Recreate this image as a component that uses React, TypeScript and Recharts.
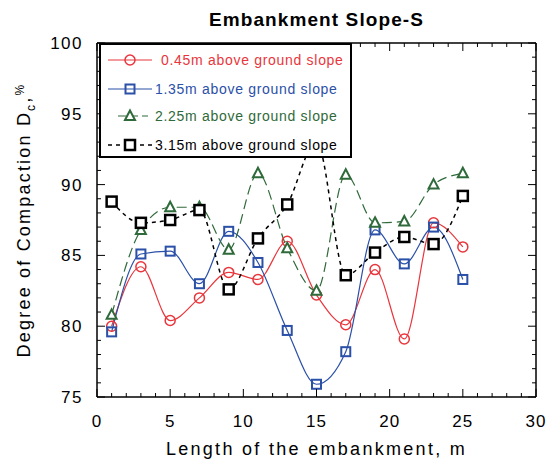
import { Line, LineChart, XAxis, YAxis } from 'recharts'

const FONT = '"Liberation Sans", Arial, sans-serif'

// length along the embankment, m
const LENGTH = [1, 3, 5, 7, 9, 11, 13, 15, 17, 19, 21, 23, 25]

// degree of compaction, %
const H045 = [80.0, 84.2, 80.4, 82.0, 83.8, 83.3, 86.0, 82.2, 80.1, 84.0, 79.1, 87.3, 85.6]
const H135 = [79.6, 85.1, 85.3, 83.0, 86.7, 84.5, 79.7, 75.9, 78.2, 86.8, 84.4, 87.0, 83.3]
const H225 = [80.8, 86.8, 88.4, 88.4, 85.4, 90.8, 85.5, 82.5, 90.7, 87.3, 87.4, 90.0, 90.8]
const H315 = [88.8, 87.3, 87.5, 88.2, 82.6, 86.2, 88.6, 93.0, 83.6, 85.2, 86.3, 85.8, 89.2]

const X_TICKS = [
  0, 1, 2, 3, 4, 5, 6, 7, 8, 9, 10, 11, 12, 13, 14, 15,
  16, 17, 18, 19, 20, 21, 22, 23, 24, 25, 26, 27, 28, 29, 30,
]
const Y_TICKS = [
  75, 76, 77, 78, 79, 80, 81, 82, 83, 84, 85, 86, 87, 88, 89, 90,
  91, 92, 93, 94, 95, 96, 97, 98, 99, 100,
]

const SERIES_NAMES = [
  '0.45m above ground slope',
  '1.35m above ground slope',
  '2.25m above ground slope',
  '3.15m above ground slope',
]

const RED = '#e8363c'
const BLUE = '#2a50a8'
const GREEN = '#2f6a3a'
const BLACK = '#000000'

type MarkerKind = 'circle' | 'square' | 'triangle' | 'blackSquare'

const SERIES = [
  { key: 'h045', name: SERIES_NAMES[0], color: RED, dash: undefined, width: 1.2, marker: 'circle' as MarkerKind },
  { key: 'h135', name: SERIES_NAMES[1], color: BLUE, dash: undefined, width: 1.2, marker: 'square' as MarkerKind },
  { key: 'h225', name: SERIES_NAMES[2], color: GREEN, dash: '10 5', width: 1.2, marker: 'triangle' as MarkerKind },
  { key: 'h315', name: SERIES_NAMES[3], color: BLACK, dash: '4 4', width: 1.5, marker: 'blackSquare' as MarkerKind },
]

const rows = LENGTH.map((x, i) => ({
  x,
  h045: H045[i],
  h135: H135[i],
  h225: H225[i],
  h315: H315[i],
}))

// plot box, from the chart margins and axis sizes below
const PLOT = { left: 97, right: 536, top: 43, bottom: 397 }
const px = (v: number) => PLOT.left + ((v - 0) / 30) * (PLOT.right - PLOT.left)
const py = (v: number) => PLOT.bottom - ((v - 75) / 25) * (PLOT.bottom - PLOT.top)

function Marker({ kind, cx, cy, color }: { kind: MarkerKind; cx: number; cy: number; color: string }) {
  if (kind === 'circle')
    return <circle cx={cx} cy={cy} r={5} fill="none" stroke={color} strokeWidth={1.5} />
  if (kind === 'square')
    return <rect x={cx - 4.5} y={cy - 4.5} width={9} height={9} fill="none" stroke={color} strokeWidth={2} />
  if (kind === 'triangle')
    return (
      <polygon
        points={`${cx},${cy - 5.5} ${cx + 5},${cy + 4} ${cx - 5},${cy + 4}`}
        fill="#fff"
        stroke={color}
        strokeWidth={2}
      />
    )
  return <rect x={cx - 5} y={cy - 5} width={10} height={10} fill="#fff" stroke={color} strokeWidth={2.5} />
}

const dotFor = (kind: MarkerKind, color: string) => (props: any) => {
  const { cx, cy, index } = props
  if (cx == null || cy == null) return <g key={index} />
  return <Marker key={index} kind={kind} cx={cx} cy={cy} color={color} />
}

const isMajor = (v: number) => v % 5 === 0
const tickLen = (v: number) => (isMajor(v) ? 8 : 4)

const bottomTick = ({ x, y, payload }: any) => (
  <g>
    {isMajor(payload.value) && (
      <text x={x} y={y + 30} textAnchor="middle" fontSize={17} fontFamily={FONT} letterSpacing={1} fill="#000">
        {payload.value}
      </text>
    )}
  </g>
)

const leftTick = ({ x, y, payload }: any) => (
  <g>
    {isMajor(payload.value) && (
      <text x={x - 14} y={y + 6} textAnchor="end" fontSize={17} fontFamily={FONT} letterSpacing={1.5} fill="#000">
        {payload.value}
      </text>
    )}
  </g>
)

// inward tick marks, legend, title and axis titles, laid over the chart
function Overlay() {
  const rowsY = [17, 46, 73, 102]
  return (
    <svg width={547} height={463} style={{ position: 'absolute', left: 0, top: 0, pointerEvents: 'none' }}>
      <g stroke="#000" strokeWidth={1}>
        {X_TICKS.map((v) => (
          <g key={`x${v}`}>
            <line x1={px(v)} x2={px(v)} y1={PLOT.bottom} y2={PLOT.bottom - tickLen(v)} />
            <line x1={px(v)} x2={px(v)} y1={PLOT.top} y2={PLOT.top + tickLen(v)} />
          </g>
        ))}
        {Y_TICKS.map((v) => (
          <g key={`y${v}`}>
            <line x1={PLOT.left} x2={PLOT.left + tickLen(v)} y1={py(v)} y2={py(v)} />
            <line x1={PLOT.right} x2={PLOT.right - tickLen(v)} y1={py(v)} y2={py(v)} />
          </g>
        ))}
      </g>
      <text x={316.5} y={26} textAnchor="middle" fontSize={19} fontWeight="bold" fontFamily={FONT}
        letterSpacing={1.1} fill="#000">
        Embankment Slope-S
      </text>
      <text x={316.5} y={455} textAnchor="middle" fontSize={18} fontFamily={FONT} letterSpacing={2.3} fill="#000">
        Length of the embankment, m
      </text>
      <text x={30} y={220} transform="rotate(-90 30 220)" textAnchor="middle"
        fontSize={18} fontFamily={FONT} letterSpacing={2.2} fill="#000">
        Degree of Compaction D
        <tspan fontSize={12} dy={5}>c</tspan>
        <tspan dy={-5}>,</tspan>
        <tspan fontSize={12} dy={-6}>%</tspan>
      </text>
      <g transform="translate(99 43)">
        <rect x={1} y={1} width={251} height={113} fill="#fff" stroke="#000" strokeWidth={2} />
        {SERIES.map((s, i) => {
          const y = rowsY[i]
          const x1 = s.marker === 'triangle' ? 19 : 9
          const x2 = s.marker === 'triangle' ? 49 : 53
          return (
            <g key={s.key}>
              <line x1={x1} y1={y} x2={x2} y2={y} stroke={s.color} strokeWidth={s.width}
                strokeDasharray={s.dash ? (s.marker === 'triangle' ? '8 4' : '4 4') : undefined} />
              <Marker kind={s.marker} cx={31} cy={y} color={s.color} />
              <text x={i === 0 ? 62 : 56} y={y + 5} fontSize={14} fontFamily={FONT} letterSpacing={0.7} fill={s.color}>
                {s.name}
              </text>
            </g>
          )
        })}
      </g>
    </svg>
  )
}

const frame = { stroke: '#000', strokeWidth: 1.5 }

export default function App() {
  return (
    <div style={{ position: 'absolute', left: 0, top: 0, width: 547, height: 463 }}>
      <LineChart
        width={547}
        height={463}
        data={rows}
        margin={{ top: 33, right: 0, bottom: 0, left: 0 }}
      >
        <XAxis
          type="number"
          dataKey="x"
          domain={[0, 30]}
          ticks={X_TICKS}
          interval={0}
          height={66}
          tickSize={0}
          tickMargin={0}
          tick={bottomTick}
          axisLine={frame}
          tickLine={false}
        />
        <XAxis
          xAxisId="t"
          orientation="top"
          type="number"
          dataKey="x"
          domain={[0, 30]}
          height={10}
          tick={false}
          tickLine={false}
          axisLine={frame}
        />
        <YAxis
          type="number"
          domain={[75, 100]}
          ticks={Y_TICKS}
          interval={0}
          width={97}
          tickSize={0}
          tickMargin={0}
          tick={leftTick}
          axisLine={frame}
          tickLine={false}
        />
        <YAxis
          yAxisId="r"
          orientation="right"
          type="number"
          domain={[75, 100]}
          width={11}
          tick={false}
          tickLine={false}
          axisLine={frame}
        />

        {SERIES.map((s) => (
          <Line
            key={s.key}
            type="monotone"
            dataKey={s.key}
            name={s.name}
            stroke={s.color}
            strokeWidth={s.width}
            strokeDasharray={s.dash}
            dot={dotFor(s.marker, s.color)}
            activeDot={false}
            isAnimationActive={false}
          />
        ))}
      </LineChart>
      <Overlay />
    </div>
  )
}
